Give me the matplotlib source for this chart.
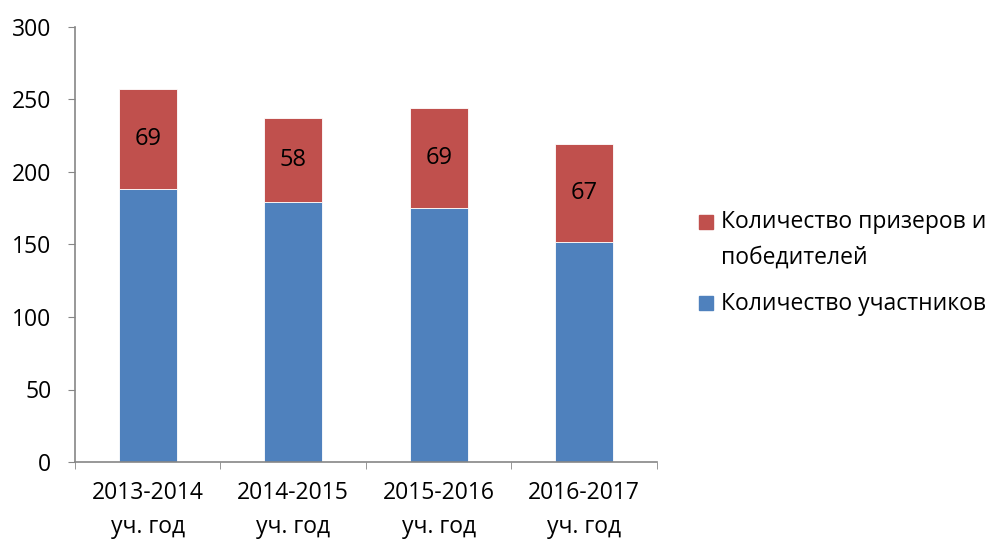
import numpy as np
import matplotlib.pyplot as plt
from matplotlib.patches import Rectangle

plt.rcParams['font.family'] = ['Open Sans', 'DejaVu Sans']

# Данные
years = ['2013-2014\nуч. год', '2014-2015\nуч. год', '2015-2016\nуч. год', '2016-2017\nуч. год']
participants = [188, 179, 175, 152]
winners = [69, 58, 69, 67]
labels = ['Количество призеров и\nпобедителей', 'Количество участников']

blue = '#4f81bd'
red = '#c0504d'
axis_col = '#868686'

W, H = 987, 540
fig = plt.figure(figsize=(W / 100, H / 100), dpi=100)
ax = fig.add_axes([75 / W, 1 - 462 / H, 582 / W, 435 / H])

x = np.arange(len(years))
w = 0.4
ax.bar(x, participants, w, color=blue, edgecolor='white', linewidth=0.6)
ax.bar(x, winners, w, bottom=participants, color=red, edgecolor='white', linewidth=0.6)

for xi, p, v in zip(x, participants, winners):
    ax.text(xi, p + v / 2, str(v), ha='center', va='center', fontsize=17)

ax.set_xlim(-0.5, len(years) - 0.5)
ax.set_ylim(0, 300)
ax.set_yticks(range(0, 301, 50))
ax.set_xticks(x)
ax.set_xticklabels(years, fontsize=16.5, linespacing=1.55)
ax.tick_params(axis='y', labelsize=16.5, length=5, color=axis_col, pad=12)
ax.tick_params(axis='x', length=0, pad=14)
ax.set_xticks(np.arange(-0.5, len(years)), minor=True)
ax.tick_params(axis='x', which='minor', length=5, color=axis_col)

for s in ['top', 'right']:
    ax.spines[s].set_visible(False)
for s in ['left', 'bottom']:
    ax.spines[s].set_color(axis_col)
    ax.spines[s].set_linewidth(1.2)

# легенда
fig.add_artist(Rectangle((699 / W, 1 - 229 / H), 14 / W, 14 / H, color=red,
                         transform=fig.transFigure))
fig.add_artist(Rectangle((699 / W, 1 - 310 / H), 14 / W, 14 / H, color=blue,
                         transform=fig.transFigure))
fig.text(721 / W, 1 - 240 / H, labels[0], fontsize=16.5, va='center',
         linespacing=1.65)
fig.text(721 / W, 1 - 304 / H, labels[1], fontsize=16.5, va='center')

plt.savefig('out.png', dpi=100)
